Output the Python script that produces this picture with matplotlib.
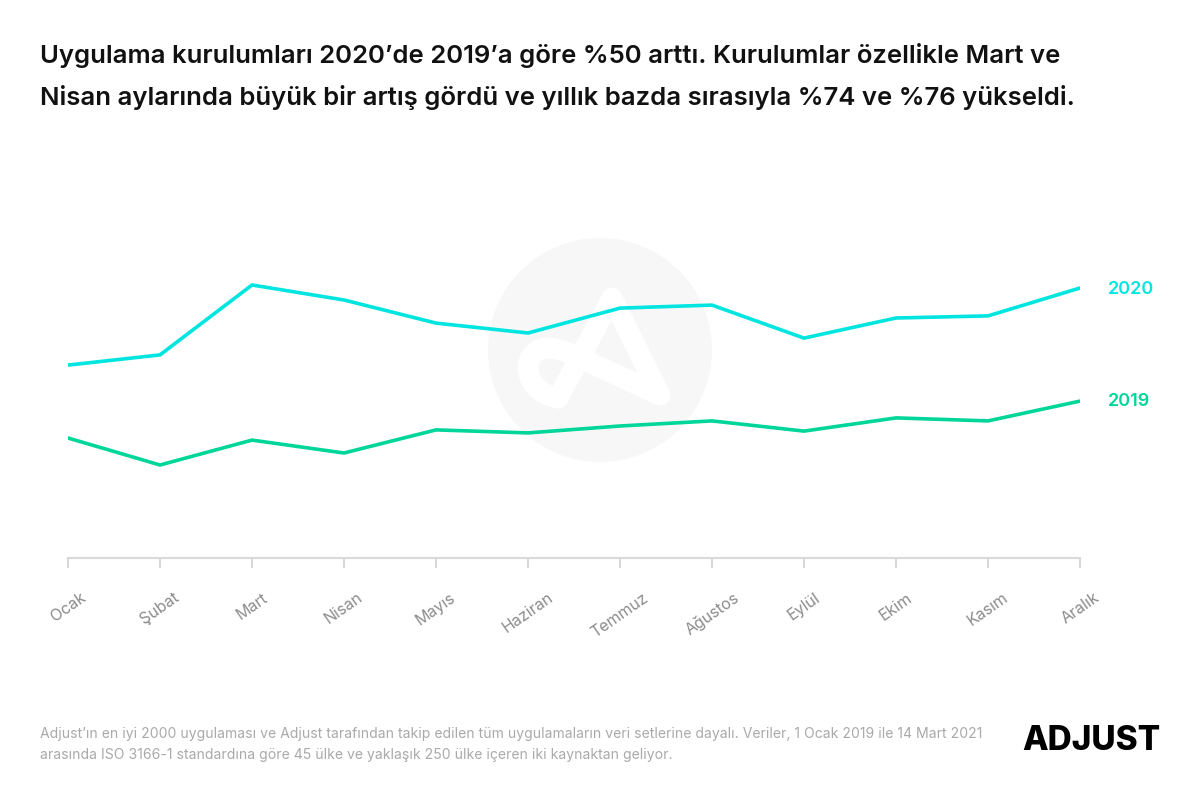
"""
Uygulama kurulumlari 2019 / 2020 (Adjust)
"""
import matplotlib
matplotlib.use('Agg')
import matplotlib.pyplot as plt
from matplotlib.patches import Circle, PathPatch
from matplotlib.path import Path

# aylar
months = ['Ocak', 'Şubat', 'Mart', 'Nisan', 'Mayıs', 'Haziran',
          'Temmuz', 'Ağustos', 'Eylül', 'Ekim', 'Kasım', 'Aralık']
# kurulum endeksi (birimsiz)
installs_2020 = [64.3, 67.7, 91.0, 86.0, 78.3, 75.0, 83.3, 84.3, 73.3, 80.0, 80.7, 90.0]
installs_2019 = [40.0, 31.0, 39.3, 35.0, 42.7, 41.7, 44.0, 45.7, 42.3, 46.7, 45.7, 52.3]

c2020 = '#00E5E0'
c2019 = '#00D69A'
font = 'Inter'

W, H = 1200, 799
fig = plt.figure(figsize=(W / 100, H / 100), dpi=100)

# background watermark in pixel coordinates
bg = fig.add_axes([0, 0, 1, 1], zorder=0)
bg.set_xlim(0, W)
bg.set_ylim(H, 0)
bg.axis('off')
bg.add_patch(Circle((600, 350), 112, color='#F7F7F7', lw=0))
verts = [(558, 398), (612, 298), (660, 395), (580, 358),
         (535, 335), (528, 365), (528, 392), (558, 398)]
codes = [Path.MOVETO, Path.LINETO, Path.LINETO, Path.LINETO,
         Path.CURVE3, Path.CURVE3, Path.CURVE3, Path.CURVE3]
bg.add_patch(PathPatch(Path(verts, codes), fill=False, ec='white', lw=15,
                       capstyle='round', joinstyle='round'))

ax = fig.add_axes([68 / W, 1 - 558 / H, (1080 - 68) / W, 300 / H], zorder=1)
ax.patch.set_alpha(0)
x = range(len(months))
ax.plot(x, installs_2020, color=c2020, lw=2.6, solid_capstyle='round', solid_joinstyle='miter')
ax.plot(x, installs_2019, color=c2019, lw=2.6, solid_capstyle='round', solid_joinstyle='miter')
ax.set_xlim(0, len(months) - 1)
ax.set_ylim(0, 100)

for s in ['top', 'right', 'left']:
    ax.spines[s].set_visible(False)
ax.spines['bottom'].set_color('#D9D9D9')
ax.spines['bottom'].set_linewidth(1.5)
ax.set_yticks([])
ax.set_xticks(list(x))
ax.set_xticklabels(months, rotation=35, ha='center', va='top',
                   fontsize=11.5, color='#8C8C8C', family=font)
ax.tick_params(axis='x', length=7, width=1.5, color='#D9D9D9', pad=16)

# series labels
ax.annotate('2020', xy=(11, installs_2020[-1]), xytext=(28, -1), textcoords='offset pixels',
            va='center', ha='left', color=c2020, fontsize=13, fontweight='semibold', family=font)
ax.annotate('2019', xy=(11, installs_2019[-1]), xytext=(28, 0), textcoords='offset pixels',
            va='center', ha='left', color=c2019, fontsize=13, fontweight='semibold', family=font)

# title
fig.text(40 / W, 1 - 55 / H,
         'Uygulama kurulumları 2020’de 2019’a göre %50 arttı. Kurulumlar özellikle Mart ve',
         fontsize=18.5, family=font, fontweight='semibold', color='#111111', va='center')
fig.text(40 / W, 1 - 98 / H,
         'Nisan aylarında büyük bir artış gördü ve yıllık bazda sırasıyla %74 ve %76 yükseldi.',
         fontsize=18.5, family=font, fontweight='semibold', color='#111111', va='center')

# footer
fig.text(40 / W, 1 - 734 / H,
         'Adjust’ın en iyi 2000 uygulaması ve Adjust tarafından takip edilen tüm uygulamaların veri setlerine dayalı. Veriler, 1 Ocak 2019 ile 14 Mart 2021',
         fontsize=10.1, family=font, color='#AAAAAA', va='center')
fig.text(40 / W, 1 - 755 / H,
         'arasında ISO 3166-1 standardına göre 45 ülke ve yaklaşık 250 ülke içeren iki kaynaktan geliyor.',
         fontsize=10.1, family=font, color='#AAAAAA', va='center')
fig.text(1160 / W, 1 - 741 / H, 'ADJUST', fontsize=24, family=font, fontweight='heavy',
         color='#000000', ha='right', va='center')

fig.savefig('out.png', dpi=100, facecolor='white')
